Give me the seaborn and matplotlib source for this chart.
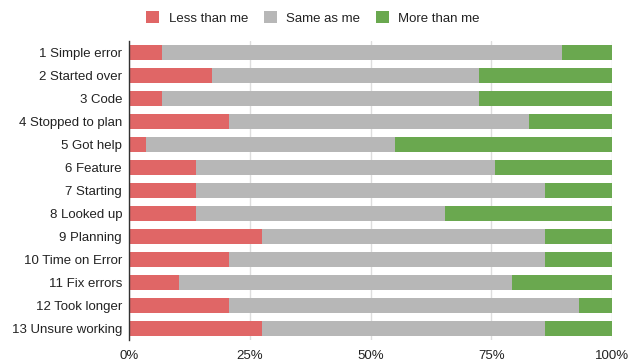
import matplotlib
matplotlib.use("Agg")
import matplotlib.pyplot as plt
import seaborn as sns
import pandas as pd
import numpy as np
from matplotlib.patches import Patch

categories = ["1 Simple error", "2 Started over", "3 Code", "4 Stopped to plan", "5 Got help",
              "6 Feature", "7 Starting", "8 Looked up", "9 Planning", "10 Time on Error",
              "11 Fix errors", "12 Took longer", "13 Unsure working"]
less_than_me = [2, 5, 2, 6, 1, 4, 4, 4, 8, 6, 3, 6, 8]
same_as_me = [24, 16, 19, 18, 15, 18, 21, 15, 17, 19, 20, 21, 17]
more_than_me = [3, 8, 8, 5, 13, 7, 4, 10, 4, 4, 6, 2, 4]
series_names = ["Less than me", "Same as me", "More than me"]
tick_labels = ["0%", "25%", "50%", "75%", "100%"]

colors = ["#E06666", "#B7B7B7", "#6AA84F"]

sns.set_theme(style="white")
plt.rcParams["font.family"] = ["Liberation Sans", "DejaVu Sans"]

tot = np.array(less_than_me) + np.array(same_as_me) + np.array(more_than_me)
p1 = np.array(less_than_me) / tot * 100
p2 = np.array(same_as_me) / tot * 100
p3 = np.array(more_than_me) / tot * 100

df = pd.DataFrame({"cat": categories, "c1": p1, "c2": p1 + p2, "c3": p1 + p2 + p3})

fig = plt.figure(figsize=(6.38, 3.64), dpi=100)
ax = fig.add_axes([129/638, 1-340/364, (612-129)/638, 299/364])

for col, c in zip(["c3", "c2", "c1"], colors[::-1]):
    sns.barplot(data=df, y="cat", x=col, color=c, ax=ax, width=0.67, orient="h",
                saturation=1, linewidth=0, zorder=2)

fs = 9.5
ax.set_xlim(0, 100)
ax.set_xticks([0, 25, 50, 75, 100])
ax.set_xticklabels(tick_labels, fontsize=fs, color="#222222")
ax.tick_params(axis="y", labelsize=fs, colors="#222222", length=0, pad=5)
ax.tick_params(axis="x", length=0, pad=7)
ax.set_xlabel("")
ax.set_ylabel("")
ax.xaxis.grid(True, color="#DDDDDD", linewidth=1, zorder=0)
ax.set_axisbelow(True)
for s in ["top", "right", "bottom"]:
    ax.spines[s].set_visible(False)
ax.spines["left"].set_color("#333333")
ax.spines["left"].set_linewidth(1)
ax.spines["left"].set_zorder(5)

handles = [Patch(facecolor=c, edgecolor="none") for c in colors]
fig.legend(handles, series_names, loc="center", bbox_to_anchor=(313/638, 1-18/364), ncol=3,
           frameon=False, fontsize=fs, handlelength=1.0, handleheight=1.0, columnspacing=1.2,
           handletextpad=0.7, labelcolor="#222222")

fig.savefig("out.png", dpi=100)
